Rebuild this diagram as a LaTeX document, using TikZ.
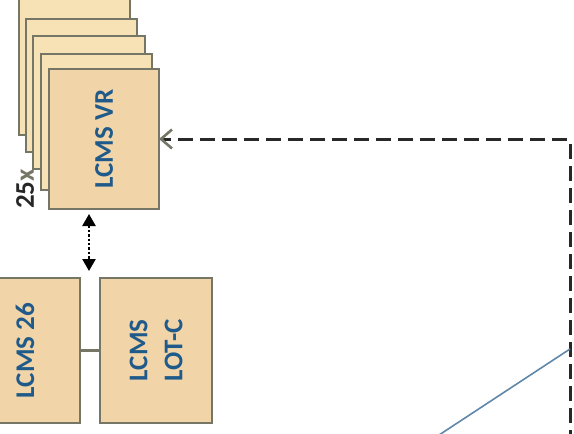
\documentclass[tikz,border=0pt]{standalone}
\usepackage{fontspec}
\setmainfont{Carlito}
\usetikzlibrary{arrows.meta}
\definecolor{boxfront}{RGB}{241,213,168}
\definecolor{boxback}{RGB}{247,226,182}
\definecolor{boxedge}{RGB}{118,118,102}
\definecolor{txtblue}{RGB}{31,90,138}
\definecolor{dashgray}{RGB}{40,40,40}
\definecolor{linkblue}{RGB}{95,135,170}
\begin{document}
\begin{tikzpicture}[x=1pt,y=-1pt,
  boxshape/.style={draw=boxedge,line width=2.6pt,inner sep=0pt,outer sep=0pt},
  frontbox/.style={boxshape,fill=boxfront},
  backbox/.style={boxshape,fill=boxback},
  lbl/.style={rotate=90,text=txtblue,font=\bfseries\fontsize{27}{35}\selectfont,align=center,inner sep=0pt},
  dashline/.style={draw=dashgray,line width=3pt,dash pattern=on 15pt off 7pt,rounded corners=3pt},
  dotarrow/.style={line width=2.4pt,dotted,{Triangle[length=12pt,width=13pt]}-{Triangle[length=12pt,width=13pt]}},
]
\useasboundingbox (0,0) rectangle (574,434);
\clip (0,0) rectangle (574,434);
% stacked boxes, back to front
\node[backbox,minimum width=111pt,minimum height=136pt] (s1) at (74.5,67) {};
\node[backbox,minimum width=111pt,minimum height=133pt] (s2) at (81.5,85.5) {};
\node[backbox,minimum width=112pt,minimum height=133pt] (s3) at (89,102.5) {};
\node[backbox,minimum width=111pt,minimum height=136pt] (s4) at (96.5,122) {};
\node[frontbox,minimum width=110pt,minimum height=140pt] (vr) at (104,139) {};
\node[lbl] (vrt) at (vr.center) {LCMS VR};
\node[rotate=90,inner sep=0pt,font=\bfseries\fontsize{27}{30}\selectfont] (cnt) at (25,189) {\textcolor{black!85}{25}\textcolor{boxedge}{x}};
% bottom boxes
\node[frontbox,minimum width=100pt,minimum height=145pt] (l26) at (30,350.5) {};
\node[lbl] (l26t) at (25,350.5) {LCMS 26};
\node[frontbox,minimum width=112pt,minimum height=145pt] (lotc) at (156,350.5) {};
\node[lbl] (lotct) at (lotc.center) {LCMS\\LOT-C};
\draw[boxedge,line width=2.6pt] (l26.east) -- (lotc.west);
% dotted double arrow
\coordinate (da1) at (89,214);
\coordinate (da2) at (89,271);
\draw[dotarrow] (da1) -- (da2);
% dashed feedback arrow
\coordinate (dstart) at (570,445);
\draw[dashline,-{Straight Barb[length=11pt,width=19pt,line width=2.6pt,color=boxedge]}] (dstart) |- (vr.east);
% blue line
\coordinate (b1) at (570,349);
\coordinate (b2) at (436,437);
\draw[linkblue,line width=1.6pt] (b1) -- (b2);
\end{tikzpicture}
\end{document}
